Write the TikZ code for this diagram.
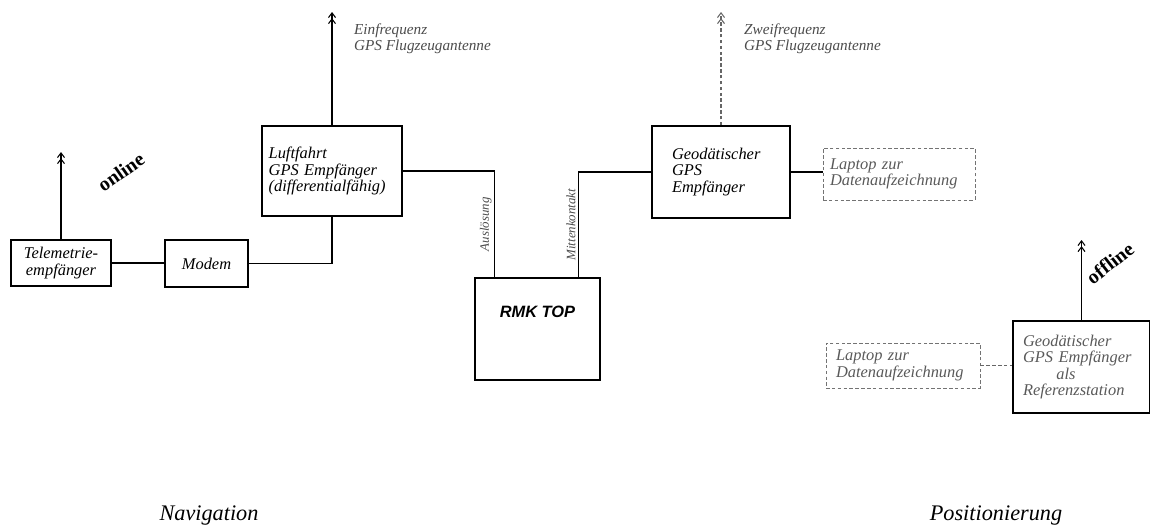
\documentclass[tikz,border=0pt]{standalone}
\usepackage{fontspec}
\setmainfont{Liberation Serif}
\setsansfont{Liberation Sans}
\usetikzlibrary{arrows.meta,calc}

\begin{document}
\begin{tikzpicture}[x=0.03cm, y=-0.03cm,
    kasten/.style={draw, line width=1.1pt, inner ysep=0pt, font=\fontsize{14}{14}\selectfont\itshape},
    leise/.style={draw=black!55, densely dashed, line width=0.8pt, text=black!65},
    leitung/.style={line width=0.9pt},
    antenne/.style={line width=0.9pt, -{Straight Barb[length=4pt,width=6pt] Straight Barb[length=4pt,width=6pt]}},
    antlabel/.style={anchor=north west, align=left, font=\fontsize{13}{13}\selectfont\itshape, text=black!70},
    kabel/.style={rotate=90, anchor=south, font=\fontsize{11}{11}\selectfont\itshape, text=black!70, inner sep=2pt},
    modus/.style={font=\fontsize{17}{17}\selectfont\bfseries},
    bereich/.style={font=\fontsize{19}{19}\selectfont\itshape}]

    \useasboundingbox (0,0) rectangle (1150,528);

    % Navigation (links)
    \node[kasten, minimum width=3.0cm, minimum height=1.38cm, align=center] (tele) at (61,263) {Telemetrie-\\empfänger};
    \node[kasten, minimum width=2.49cm, minimum height=1.41cm] (modem) at (206.5,263.5) {Modem};
    \node[kasten, minimum width=4.2cm, minimum height=2.7cm, text width=3.8cm, inner xsep=0.2cm, align=left] (luft) at (332,171) {Luftfahrt\\GPS Empfänger\\(differentialfähig)};

    % Kamera
    \node[kasten, minimum width=3.75cm, minimum height=3.06cm,
        label={[anchor=center, yshift=-1.02cm, font=\fontsize{14}{14}\selectfont\sffamily\bfseries\itshape]north:RMK TOP}] (rmk) at (537.5,329) {};

    % Positionierung (rechts)
    \node[kasten, minimum width=4.14cm, minimum height=2.76cm, text width=2.94cm, inner xsep=0.6cm, align=left] (geo) at (721,172) {Geodätischer\\GPS\\Empfänger};
    \node[kasten, leise, minimum width=4.56cm, minimum height=1.56cm, text width=4.14cm, inner xsep=0.21cm, align=left] (laptopa) at (899,174) {Laptop zur\\Datenaufzeichnung};
    \node[kasten, minimum width=4.11cm, minimum height=2.76cm, text width=3.51cm, inner xsep=0.3cm, align=left, text=black!65] (ref) at (1081.5,367) {Geodätischer\\GPS Empfänger\\\hspace*{1.0cm}als\\Referenzstation};
    \node[kasten, leise, minimum width=4.62cm, minimum height=1.35cm, text width=4.02cm, inner xsep=0.3cm, align=left] (laptopb) at (903,365.5) {Laptop zur\\Datenaufzeichnung};

    % Anschlusspunkte
    \coordinate (rmkaus) at ($(rmk.north west)!0.16!(rmk.north east)$);
    \coordinate (rmkmit) at ($(rmk.north west)!0.824!(rmk.north east)$);
    \coordinate (oben) at (0,12);
    \coordinate (teletop) at (0,152);
    \coordinate (reftop) at (0,240);

    % Verbindungen
    \draw[leitung] (tele.east) -- (tele.east -| modem.west);
    \draw[leitung] (modem.east) -| (luft.south);
    \draw[leitung] (luft.east) -| (rmkaus) node[kabel, pos=0.75] {Auslösung};
    \draw[leitung] (rmkmit) |- (geo.west) node[kabel, pos=0.25] {Mittenkontakt};
    \draw[leitung] (geo.east) -- (geo.east -| laptopa.west);
    \draw[leitung, densely dashed, black!60] (laptopb.east) -- (laptopb.east -| ref.west);

    % Antennen
    \draw[antenne] (tele.north) -- (tele.north |- teletop);
    \draw[antenne] (luft.north) -- (luft.north |- oben);
    \draw[antenne, densely dashed, black!60] (geo.north) -- (geo.north |- oben);
    \draw[antenne] (ref.north) -- (ref.north |- reftop);

    % Antennenbeschriftung
    \node[antlabel] (luftantname) at (350,20) {Einfrequenz\\GPS Flugzeugantenne};
    \node[antlabel] (geoantname) at (740,20) {Zweifrequenz\\GPS Flugzeugantenne};

    % Betriebsart
    \node[modus, rotate=35] (online) at (121,172) {online};
    \node[modus, rotate=38] (offline) at (1110,263) {of\kern0pt f\kern0pt line};

    % Bereiche
    \node[bereich] (nav) at (209,515) {Navigation};
    \node[bereich] (pos) at (996,515) {Positionierung};

\end{tikzpicture}
\end{document}
